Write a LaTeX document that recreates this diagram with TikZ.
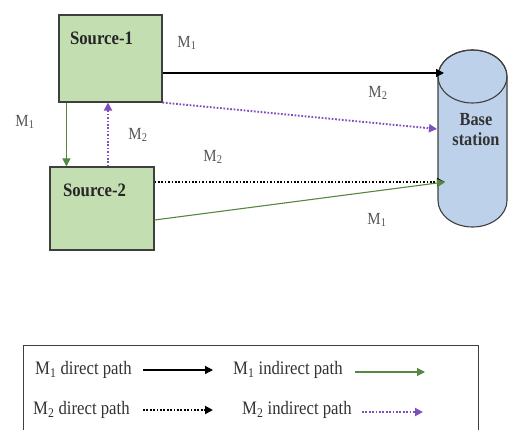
\documentclass[tikz,border=0pt]{standalone}
\usepackage{fontspec}
\setmainfont{Liberation Serif}
\newfontfamily\narrowserif[FakeStretch=0.88]{Liberation Serif}
\usetikzlibrary{arrows.meta}

\definecolor{boxgreen}{HTML}{C3DEB0}
\definecolor{cylblue}{HTML}{BDD2EA}
\definecolor{edgegray}{HTML}{3F3F3F}
\definecolor{pathgreen}{HTML}{56863F}
\definecolor{pathpurple}{HTML}{7F4FBF}
\definecolor{labelgray}{HTML}{555555}

\begin{document}
\begin{tikzpicture}[x=1pt,y=-1pt,
  srcbox/.style={draw=edgegray, fill=boxgreen, line width=1.1pt, inner sep=0pt},
  srctitle/.style={font=\narrowserif\fontsize{19}{22}\selectfont\bfseries, text=black!85, inner sep=0pt},
  bstext/.style={font=\narrowserif\fontsize{18.5}{20}\selectfont\bfseries, text=black!80, inner sep=0pt, align=center},
  mlabel/.style={font=\narrowserif\fontsize{17}{20}\selectfont, text=labelgray, inner sep=0pt},
  legtext/.style={font=\narrowserif\fontsize{19}{22}\selectfont, text=black!80, inner sep=0pt, anchor=west},
  tip/.style={-{Triangle[length=8pt,width=8pt]}},
  direct/.style={tip, line width=1.3pt, black},
  indirect/.style={tip, line width=1.1pt, pathgreen},
  dotline/.style={tip, line width=1.9pt, dash pattern=on 1.7pt off 1.7pt},
]
\useasboundingbox (0,0) rectangle (508,430);
\clip (0,0) rectangle (508,430);

% sources
\node[srcbox, minimum width=103pt, minimum height=87pt] (s1) at (110.5,58.5) {};
\node[srcbox, minimum width=104pt, minimum height=83pt] (s2) at (102,208.5) {};
\node[srctitle] (t1) at (101.5,38) {Source-1};
\node[srctitle] (t2) at (94.5,190) {Source-2};

% base station cylinder
\filldraw[fill=cylblue, draw=edgegray, line width=1.1pt]
  (438,76.5) -- (438,200.5) arc[start angle=180, end angle=0, x radius=34.5, y radius=26.5]
  -- (507,76.5) arc[start angle=0, end angle=-180, x radius=34.5, y radius=26.5] -- cycle;
\draw[edgegray, line width=1.1pt] (472.5,76.5) ellipse[x radius=34.5, y radius=26.5];
\node[bstext] (bs) at (476,130) {Base\\station};
\coordinate (bsTop) at (444,73);
\coordinate (bsMid) at (437,129);
\coordinate (bsLow) at (445,182);

% paths to the base station
\draw[direct] (s1.east |- bsTop) -- (bsTop);
\draw[dotline, pathpurple] (s1.south east) -- (bsMid);
\draw[dotline, black] (s2.east |- bsLow) -- (bsLow);
\draw[indirect] ([yshift=-11.5pt]s2.east) -- (bsLow);

% paths between the sources
\coordinate (s1dn) at ([xshift=8pt]s1.south west);
\coordinate (s1up) at ([xshift=-2.5pt]s1.south);
\draw[indirect] (s1dn) -- (s1dn |- s2.north);
\draw[dotline, pathpurple] (s1up |- s2.north) -- (s1up);

% message labels
\node[mlabel] (m1a) at (187,43) {M\textsubscript{1}};
\node[mlabel] (m1b) at (25,122) {M\textsubscript{1}};
\node[mlabel] (m2a) at (138,135) {M\textsubscript{2}};
\node[mlabel] (m2b) at (213,157) {M\textsubscript{2}};
\node[mlabel] (m2c) at (378,93) {M\textsubscript{2}};
\node[mlabel] (m1c) at (377,220) {M\textsubscript{1}};

% legend
\node[draw=edgegray, line width=1pt, minimum width=455pt, minimum height=100pt, anchor=north west, inner sep=0pt] (legend) at (23,345) {};
\node[legtext] (l1) at (35,370) {M\textsubscript{1} direct path};
\node[legtext] (l2) at (233,370) {M\textsubscript{1} indirect path};
\node[legtext] (l3) at (33,410) {M\textsubscript{2} direct path};
\node[legtext] (l4) at (242,410) {M\textsubscript{2} indirect path};
\coordinate (a1s) at (143,370); \coordinate (a1e) at (213,370);
\coordinate (a2s) at (355,372); \coordinate (a2e) at (425,372);
\coordinate (a3s) at (143,410); \coordinate (a3e) at (213,410);
\coordinate (a4s) at (362,412); \coordinate (a4e) at (423,412);
\draw[direct] (a1s) -- (a1e);
\draw[indirect] (a2s) -- (a2e);
\draw[dotline, black] (a3s) -- (a3e);
\draw[dotline, pathpurple] (a4s) -- (a4e);
\end{tikzpicture}
\end{document}
